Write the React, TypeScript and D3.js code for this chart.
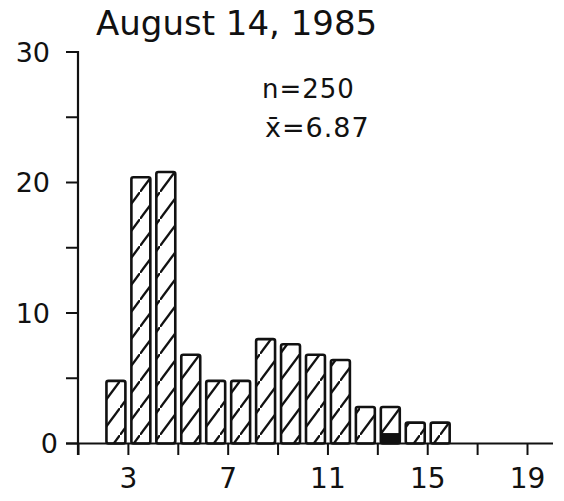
import React from "react";
import * as d3 from "d3";

const title = "August 14, 1985";
const statN = "n=250";
const statMean = "x\u0304=6.87";
const binStarts = [2, 3, 4, 5, 6, 7, 8, 9, 10, 11, 12, 13, 14, 15];
const percentValues = [4.8, 20.4, 20.8, 6.8, 4.8, 4.8, 8.0, 7.6, 6.8, 6.4, 2.8, 2.8, 1.6, 1.6];
const solidValues = [0, 0, 0, 0, 0, 0, 0, 0, 0, 0, 0, 0.8, 0, 0];
const yTickValues = [0, 5, 10, 15, 20, 25, 30];
const yTickLabels = [0, 10, 20, 30];
const xTickValues = [1, 3, 5, 7, 9, 11, 13, 15, 17, 19];
const xTickLabels = [3, 7, 11, 15, 19];

const W = 564;
const H = 501;
const FONT = "'DejaVu Sans', 'Liberation Sans', sans-serif";

export default function App() {
  const x = d3.scaleLinear().domain([1, 19]).range([78.5, 527.5]);
  const y = d3.scaleLinear().domain([0, 30]).range([443.5, 52]);
  const pad = 3;
  const axisColor = "#111";
  const pw = 20;
  const ph = 27;

  return (
    <svg
      width={W}
      height={H}
      viewBox={`0 0 ${W} ${H}`}
      style={{ position: "absolute", left: 0, top: 0, background: "#fff" }}
    >
      <defs>
        <pattern id="hatch" patternUnits="userSpaceOnUse" width={pw} height={ph} y={3}>
          <path
            d={`M${-pw / 2},${ph * 1.5} L${pw * 1.5},${-ph / 2}`}
            stroke="#111"
            strokeWidth={2.3}
          />
        </pattern>
      </defs>
      <rect width={W} height={H} fill="#fff" />

      {/* title */}
      <text x={96} y={35} fontFamily={FONT} fontSize={34} fill="#111">
        {title}
      </text>
      <text x={262} y={98} fontFamily={FONT} fontSize={26} letterSpacing={1} fill="#111">
        {statN}
      </text>
      <text x={265} y={137} fontFamily={FONT} fontSize={27} letterSpacing={1} fill="#111">
        {statMean}
      </text>

      {/* bars */}
      {binStarts.map((b, i) => {
        const x0 = x(b) + pad;
        const x1 = x(b + 1) - pad;
        const yt = y(percentValues[i]);
        const yb = y(0);
        return (
          <g key={b}>
            <rect x={x0} y={yt} width={x1 - x0} height={yb - yt} fill="url(#hatch)" />
            {solidValues[i] > 0 && (
              <rect x={x0} y={y(solidValues[i])} width={x1 - x0} height={yb - y(solidValues[i])} fill="#111" />
            )}
            <rect
              x={x0}
              y={yt}
              width={x1 - x0}
              height={yb - yt}
              rx={2}
              fill="none"
              stroke="#111"
              strokeWidth={2.6}
            />
          </g>
        );
      })}

      {/* y axis */}
      <line x1={78} x2={78} y1={y(30) - 1} y2={455} stroke={axisColor} strokeWidth={2.2} />
      {yTickValues.map((v) => (
        <line key={v} x1={66} x2={78} y1={y(v)} y2={y(v)} stroke={axisColor} strokeWidth={2} />
      ))}
      {yTickLabels.map((v) => (
        <text
          key={v}
          x={v === 0 ? 58 : 50}
          y={y(v)}
          dy="0.36em"
          textAnchor="end"
          fontFamily={FONT}
          fontSize={27}
          fill="#111"
        >
          {v}
        </text>
      ))}

      {/* x axis */}
      <line x1={66} x2={553} y1={y(0)} y2={y(0)} stroke={axisColor} strokeWidth={2.2} />
      {xTickValues.map((v) => (
        <line key={v} x1={x(v)} x2={x(v)} y1={y(0)} y2={455} stroke={axisColor} strokeWidth={2} />
      ))}
      {xTickLabels.map((v) => (
        <text
          key={v}
          x={x(v)}
          y={488}
          textAnchor="middle"
          fontFamily={FONT}
          fontSize={28}
          fill="#111"
        >
          {v}
        </text>
      ))}
    </svg>
  );
}
